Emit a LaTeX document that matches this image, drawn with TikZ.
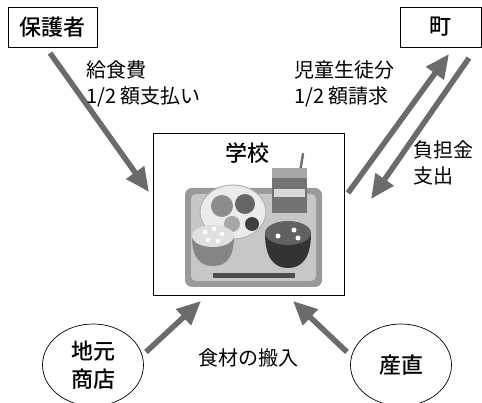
\documentclass[tikz,border=0pt]{standalone}
\usepackage{fontspec}
\newfontfamily\jp{Noto Sans CJK JP}
\newfontfamily\jpm{Noto Sans CJK JP Medium}
\usetikzlibrary{arrows.meta,shapes.geometric}
\tikzset{
  party/.style={draw=black, line width=0.9pt, inner sep=0pt, font=\jpm\fontsize{22}{26}\selectfont},
  shop/.style={ellipse, draw=black, line width=0.7pt, minimum width=101pt, minimum height=82pt, inner sep=0pt, align=center, font=\jpm\fontsize{22}{28}\selectfont},
  note/.style={anchor=north west, align=left, inner sep=0pt, font=\jp\fontsize{20}{26}\selectfont},
  flow/.style={draw=black!58, line width=5.5pt, -{Triangle[length=24pt,width=21pt]}},
}
\begin{document}
\begin{tikzpicture}[x=1pt,y=-1pt]
\useasboundingbox (0,0) rectangle (482,403);
\fill[white] (0,0) rectangle (482,403);

% parties
\node[party, minimum width=89pt, minimum height=40pt] (parent) at (52.5,27) {保護者};
\node[party, minimum width=81pt, minimum height=40pt] (town) at (440.5,27) {町};
\node[draw=black, line width=0.9pt, minimum width=191pt, minimum height=162pt, inner sep=0pt] (school) at (248.5,214) {};
\node[font=\jpm\fontsize{22}{26}\selectfont, inner sep=0pt] (schoolname) at (247,153) {学校};

% school lunch tray
\fill[black!40, rounded corners=7pt] (185,188) rectangle (322,287);
\fill[black!22, rounded corners=5pt] (191,194) rectangle (316,281);
% milk carton and straw
\draw[black!55, line width=2.5pt, line cap=round] (300,172) -- (303,154);
\fill[black!55] (272,168) rectangle (307,213);
\fill[black!35] (272,168) rectangle (307,178);
\fill[white!85!black] (274,189) rectangle (305,197);
% plate of side dishes
\fill[black!8] (233,212) ellipse [x radius=33, y radius=27];
\draw[black!30, line width=1pt] (233,212) ellipse [x radius=33, y radius=27];
\fill[black!45] (222,206) circle (11);
\fill[black!60] (245,204) circle (10);
\fill[black!75] (252,224) circle (7);
\fill[black!35] (232,224) circle (8);
% rice bowl
\fill[black!48] (192,236) .. controls (192,258) and (200,266) .. (213,266) .. controls (226,266) and (234,258) .. (234,236) -- cycle;
\fill[black!12] (213,236) ellipse [x radius=21, y radius=11];
\foreach \p in {(205,232),(214,229),(222,234),(208,240),(218,241)}
  \fill[white] \p circle (2.3);
% soup bowl
\fill[black!80] (265,233) .. controls (265,258) and (274,268) .. (288,268) .. controls (302,268) and (311,258) .. (311,233) -- cycle;
\fill[black!62] (288,233) ellipse [x radius=23, y radius=12];
\foreach \p in {(278,236),(294,230),(298,238)}
  \fill[white] \p circle (2.5);
% chopsticks
\fill[black!70] (213,273) rectangle (295,278);

% local suppliers
\node[shop] (shop) at (93,365) {地元\\商店};
\node[shop] (farm) at (401,365) {産直};

% arrow end points
\coordinate (parentOut) at (50,53);
\coordinate (schoolFromParent) at (149,192);
\coordinate (schoolToTown) at (348,193);
\coordinate (townIn) at (449,54);
\coordinate (townOut) at (469,58);
\coordinate (schoolFromTown) at (371,199);
\coordinate (shopOut) at (146,352);
\coordinate (schoolFromShop) at (201,301);
\coordinate (farmOut) at (347,352);
\coordinate (schoolFromFarm) at (293,301);

% money and goods flows
\draw[flow] (parentOut) -- (schoolFromParent);
\draw[flow] (schoolToTown) -- (townIn);
\draw[flow] (townOut) -- (schoolFromTown);
\draw[flow] (shopOut) -- (schoolFromShop);
\draw[flow] (farmOut) -- (schoolFromFarm);

% labels
\node[note] (fee) at (86,60) {給食費\\1/2 額支払い};
\node[note] (claim) at (294,60) {児童生徒分\\1/2 額請求};
\node[note] (pay) at (413,140) {負担金\\支出};
\node[font=\jp\fontsize{20}{26}\selectfont, inner sep=0pt] (goods) at (248,358) {食材の搬入};
\end{tikzpicture}
\end{document}
